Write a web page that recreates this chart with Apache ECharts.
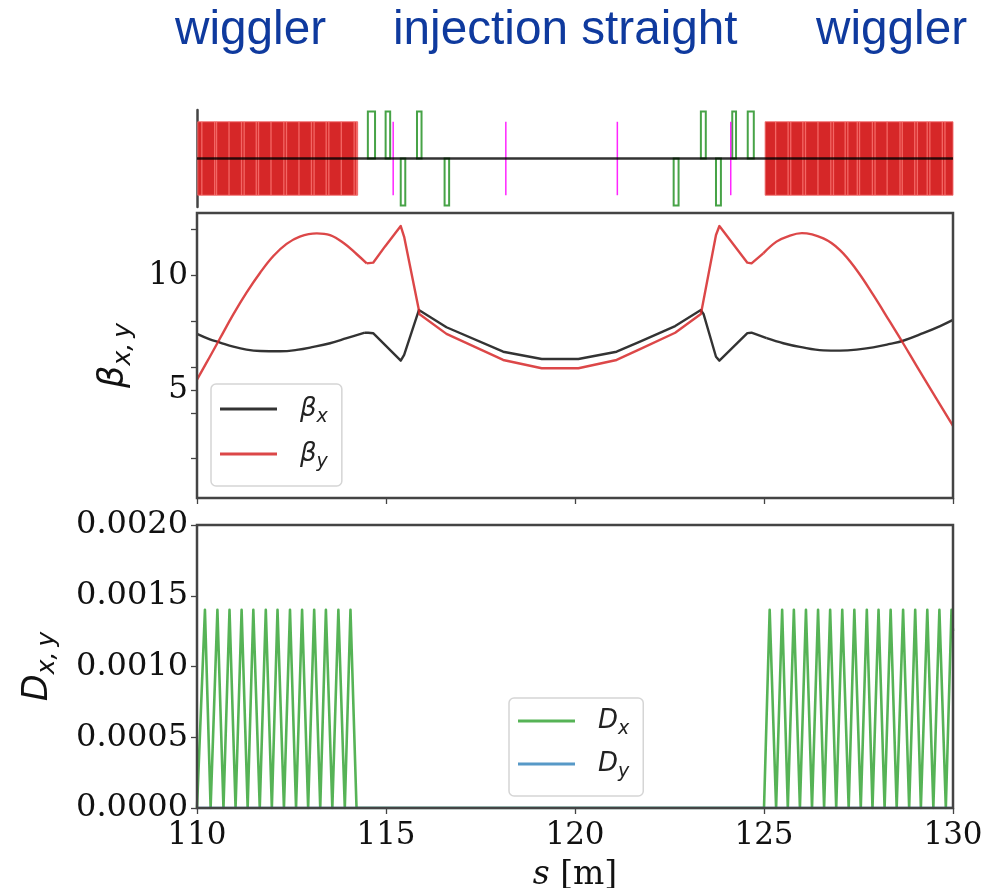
<!DOCTYPE html>
<html>
<head>
<meta charset="utf-8">
<style>html,body{margin:0;padding:0;background:#fff}#c{width:1007px;height:888px}</style>
<script src="https://cdn.jsdelivr.net/npm/echarts@6/dist/echarts.min.js"></script>
</head>
<body>
<div id="c"></div>
<script>
// Beam-line elements, positions in metres along s
const wigglerBlocks = [[110.02, 114.25], [125.03, 130]];
const wigglerEdges = [110.11,110.45,110.50,110.83,111.16,111.23,111.55,111.61,111.94,112.28,112.35,112.68,113.01,113.08,113.40,113.47,113.80,114.14,114.20,
  125.29,125.62,125.69,126.01,126.08,126.41,126.75,126.82,127.13,127.20,127.45,127.51,127.85,127.92,128.24,128.58,128.64,128.97,129.04,129.30,129.37,129.70,129.77];
const focusingQuads = [[114.52,114.71],[114.99,115.11],[115.82,115.94],[123.33,123.46],[124.16,124.26],[124.57,124.73]];
const defocusingQuads = [[115.39,115.51],[116.55,116.67],[122.61,122.74],[123.73,123.86]];
const kickers = [115.17, 118.15, 121.10, 124.10];
const beamLine = [[110, 0], [130, 0]];

// Optics functions [s, value]: wiggler arcs and the kinked straight section
const betaXLeft = [[110,7.45],[110.34,7.21],[110.61,7.07],[110.96,6.89],[111.31,6.76],[111.67,6.70],[112.2,6.69],[112.64,6.75],[113.08,6.88],[113.52,7.04],[113.96,7.26],[114.44,7.5]];
const betaXMid = [[114.44,7.5],[114.53,7.5],[114.66,7.48],[115.39,6.28],[115.48,6.53],[115.87,8.49],[116.6,7.74],[118.1,6.67],[119.12,6.35],[120.09,6.35],[121.1,6.67],[121.72,7.11],[122.65,7.79],[123.33,8.49],[123.4,8.32],[123.73,6.45],[123.82,6.28],[124.56,7.48],[124.67,7.5],[125.07,7.26]];
const betaXRight = [[125.07,7.26],[125.51,7.04],[125.95,6.88],[126.57,6.73],[127.01,6.72],[127.45,6.76],[127.89,6.86],[128.33,7.01],[128.68,7.15],[129.21,7.48],[129.66,7.79],[130,8.06]];
const betaYLeft = [[110,5.45],[110.34,6.45],[110.61,7.26],[110.96,8.3],[111.31,9.25],[111.67,10.12],[112.02,10.85],[112.37,11.38],[112.72,11.7],[113.17,11.84],[113.52,11.76],[113.87,11.43],[114.22,10.94],[114.49,10.53]];
const betaYMid = [[114.49,10.53],[114.66,10.56],[114.97,11.26],[115.39,12.16],[115.48,11.69],[115.87,8.49],[115.88,8.32],[116.6,7.45],[118.1,6.31],[119.12,5.95],[120.09,5.95],[121.1,6.31],[121.72,6.78],[122.65,7.5],[123.33,8.32],[123.36,8.57],[123.73,11.77],[123.82,12.16],[124.56,10.56],[124.67,10.53],[124.98,10.97]];
const betaYRight = [[124.98,10.97],[125.33,11.48],[125.6,11.69],[126.0,11.85],[126.57,11.62],[127.01,11.11],[127.45,10.24],[127.89,9.15],[128.33,7.98],[128.68,7.04],[129.04,6.04],[129.48,4.84],[130,3.43]];
const dispX = [[110,0],[110.21,0.0014],[110.36,0],[110.54,0.0014],[110.70,0],[110.86,0.0014],[111.02,0],[111.18,0.0014],[111.34,0],[111.49,0.0014],[111.66,0],[111.82,0.0014],[111.98,0],[112.13,0.0014],[112.30,0],[112.46,0.0014],[112.62,0],[112.78,0.0014],[112.94,0],[113.10,0.0014],[113.26,0],[113.41,0.0014],[113.58,0],[113.74,0.0014],[113.91,0],[114.06,0.0014],[114.22,0],
  [125.0,0],[125.15,0.0014],[125.32,0],[125.48,0.0014],[125.63,0],[125.79,0.0014],[125.95,0],[126.11,0.0014],[126.27,0],[126.43,0.0014],[126.59,0],[126.75,0.0014],[126.91,0],[127.07,0.0014],[127.24,0],[127.39,0.0014],[127.56,0],[127.72,0.0014],[127.87,0],[128.03,0.0014],[128.19,0],[128.35,0.0014],[128.51,0],[128.68,0.0014],[128.84,0],[129.0,0.0014],[129.15,0],[129.32,0.0014],[129.48,0],[129.64,0.0014],[129.81,0],[129.96,0.0014],[130,0.00125]];
const dispY = [[110,0],[130,0]];

// Tick values and labels
const betaTicks = [2,4,5,6,8,10,12];
const betaLabels = [5,10];
const sectionNames = ['wiggler','injection straight','wiggler'];

const RED = 'rgba(214,39,40,0.85)', BLACK = 'rgba(0,0,0,0.8)', GREEN = 'rgba(44,160,44,0.8)',
      DARKGREEN = 'rgba(0,128,0,0.72)', BLUE = 'rgba(31,119,180,0.75)', SPINE = '#444';
const SERIF = '"DejaVu Serif", serif', SANS = '"DejaVu Sans", sans-serif';

const L = 197, W = 756;
const tick = {show:true, length:6, lineStyle:{color:SPINE, width:1.3}};
const xTickLabel = {fontFamily:SERIF, fontSize:31, color:'#111', margin:12};
const yTickLabel = {fontFamily:SERIF, fontSize:31, color:'#111', margin:9};

function rectRender(top, bottom, style) {
  return function (params, api) {
    const p0 = api.coord([api.value(0), top]);
    const p1 = api.coord([api.value(1), bottom]);
    return {type:'rect', shape:{x:p0[0], y:p0[1], width:p1[0]-p0[0], height:p1[1]-p0[1]}, style:style};
  };
}
function custom(name, data, render, z) {
  return {type:'custom', name:name, xAxisIndex:0, yAxisIndex:0, data:data, renderItem:render, z:z, silent:true, clip:false, tooltip:{show:false}};
}
function line(name, data, color, x, y, z, smooth, width) {
  return {type:'line', name:name, xAxisIndex:x, yAxisIndex:y, data:data, showSymbol:false, symbol:'none', smooth:smooth||false, z:z,
    lineStyle:{color:color, width:width||2.4, join:'round'}, itemStyle:{color:color}};
}
function legendStyle(pad) {
  return {
    orient:'vertical', icon:'rect', itemWidth:57, itemHeight:3, padding:pad,
    backgroundColor:'rgba(255,255,255,0.8)', borderColor:'#d5d5d5', borderWidth:1.5, borderRadius:5,
    formatter:function(name){ return '{sp|}{m|' + name.charAt(0) + '}{s|' + name.charAt(1) + '}'; },
    textStyle:{rich:{
      sp:{width:18},
      m:{fontFamily:SANS, fontStyle:'italic', fontSize:26, color:'#222', lineHeight:36},
      s:{fontFamily:SANS, fontStyle:'italic', fontSize:19, color:'#222', lineHeight:16, verticalAlign:'bottom'}
    }}
  };
}
function axisName(main, sub) { return '{m|' + main + '}{s|' + sub + '}'; }
const nameRich = {
  m:{fontFamily:SANS, fontStyle:'italic', fontSize:35, color:'#111', lineHeight:44},
  s:{fontFamily:SANS, fontStyle:'italic', fontSize:25, color:'#111', lineHeight:18, verticalAlign:'bottom'}
};

const titleLefts = [175, 393, 816];
const option = {
  animation:false,
  backgroundColor:'#fff',
  title: sectionNames.map(function(t,i){
    return {text:t, left:titleLefts[i], top:7, padding:0,
      textStyle:{fontFamily:'"Liberation Sans", Arial, sans-serif', fontSize:47.7, fontWeight:'normal', color:'#0f3a9e'}};
  }),
  grid:[
    {left:L, width:W, top:110, height:97, show:false, outerBoundsMode:'none'},
    {left:L, width:W, top:213, height:285, show:true, borderColor:SPINE, borderWidth:2.5, z:10, outerBoundsMode:'none'},
    {left:L, width:W, top:525, height:283, show:true, borderColor:SPINE, borderWidth:2.5, z:10, outerBoundsMode:'none'}
  ],
  xAxis:[
    {type:'value', gridIndex:0, min:110, max:130, show:false},
    {type:'value', gridIndex:1, min:110, max:130, interval:5, axisLine:{show:false}, axisTick:tick, axisLabel:{show:false}, splitLine:{show:false}},
    {type:'value', gridIndex:2, min:110, max:130, interval:5, axisLine:{show:false}, axisTick:tick, axisLabel:xTickLabel, splitLine:{show:false},
     name:'{i|s}{r|\u00a0[m]}', nameLocation:'middle', nameGap:51,
     nameTextStyle:{rich:{i:{fontFamily:SERIF, fontStyle:'italic', fontSize:33, color:'#111'}, r:{fontFamily:SERIF, fontSize:33, color:'#111'}}}}
  ],
  yAxis:[
    {type:'value', gridIndex:0, min:-1.03, max:1.03, axisLine:{show:true, onZero:false, lineStyle:{color:SPINE, width:2.5}}, axisTick:{show:false}, axisLabel:{show:false}, splitLine:{show:false}},
    {type:'value', gridIndex:1, min:0.28, max:12.73, axisLine:{show:false},
     axisTick:{show:true, length:6, lineStyle:{color:SPINE, width:1.3}, customValues:betaTicks},
     axisLabel:Object.assign({}, yTickLabel, {customValues:betaLabels}), splitLine:{show:false},
     name:axisName('β','x,\u2009y'), nameLocation:'middle', nameGap:61, nameRotate:90, nameTextStyle:{rich:nameRich}},
    {type:'value', gridIndex:2, min:0, max:0.002, interval:0.0005, axisLine:{show:false}, axisTick:tick,
     axisLabel:Object.assign({}, yTickLabel, {fontSize:32, formatter:function(v){return v.toFixed(4);}}), splitLine:{show:false},
     name:axisName('D','x,\u2009y'), nameLocation:'middle', nameGap:137, nameRotate:90, nameTextStyle:{rich:nameRich}}
  ],
  legend:[
    Object.assign(legendStyle([12,14,14,9]), {data:['βx','βy'], left:211, top:384, itemGap:14}),
    Object.assign(legendStyle([10,14,14,9]), {data:['Dx','Dy'], left:509, top:698, itemGap:12})
  ],
  series:[
    custom('wiggler', wigglerBlocks, rectRender(0.78,-0.78,{fill:'#d62728', stroke:'rgba(240,110,110,0.9)', lineWidth:1}), 2),
    custom('wiggler edge', wigglerEdges.map(function(s){return [s, s+0.035];}), rectRender(0.78,-0.78,{fill:'rgba(255,130,125,0.7)'}), 3),
    custom('focusing quadrupole', focusingQuads, rectRender(1,0,{fill:'none', stroke:DARKGREEN, lineWidth:2}), 3),
    custom('defocusing quadrupole', defocusingQuads, rectRender(0,-1,{fill:'none', stroke:DARKGREEN, lineWidth:2}), 3),
    custom('kicker', kickers.map(function(s){return [s, s+0.04];}), rectRender(0.78,-0.78,{fill:'rgba(255,0,255,0.85)'}), 3),
    line('beam line', beamLine, BLACK, 0, 0, 5),
    line('βx', betaXLeft, BLACK, 1, 1, 3, 0.4),
    line('βx', betaXMid, BLACK, 1, 1, 3),
    line('βx', betaXRight, BLACK, 1, 1, 3, 0.4),
    line('βy', betaYLeft, RED, 1, 1, 4, 0.4),
    line('βy', betaYMid, RED, 1, 1, 4),
    line('βy', betaYRight, RED, 1, 1, 4, 0.4),
    line('Dx', dispX, GREEN, 2, 2, 3, false, 2.6),
    line('Dy', dispY, BLUE, 2, 2, 4)
  ]
};
echarts.init(document.getElementById('c'), null, {renderer:'canvas'}).setOption(option);
</script>
</body>
</html>
